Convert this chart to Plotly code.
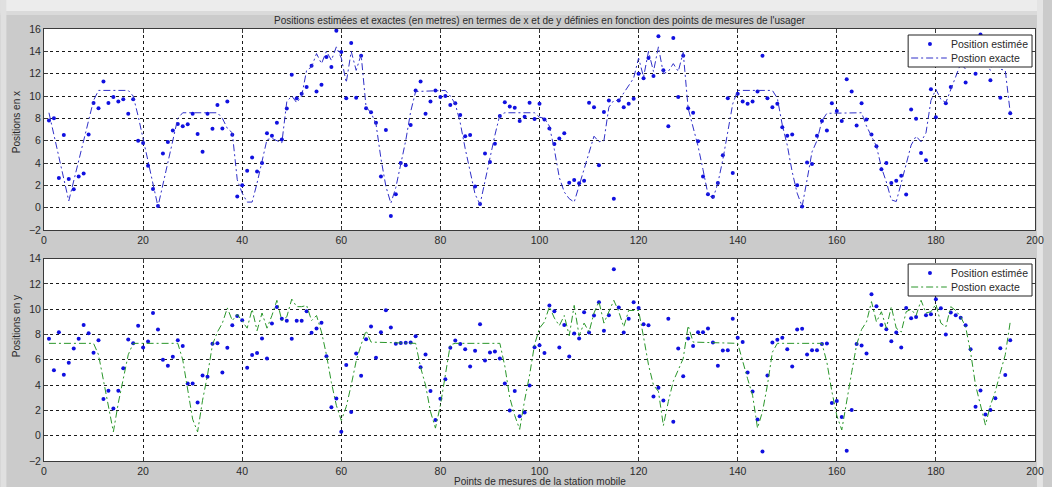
import plotly.graph_objects as go

# Measurement point index (1..195)
points = list(range(1, 196))

# Estimated x positions (m)
est_x = [
    7.8, 8.0, 2.66, 6.5, 2.57, 1.64, 2.8, 3.05, 6.55, 9.37,
    8.9, 11.3, 9.37, 9.9, 9.5, 9.7, 8.4, 9.7, 6.0, 5.8,
    3.76, 1.67, 0.15, 4.84, 5.88, 6.9, 7.5, 7.28, 7.46, 8.42,
    6.6, 5.0, 8.42, 7.07, 9.2, 7.1, 9.5, 6.54, 1.0, 2.0,
    3.3, 4.5, 3.25, 4.0, 6.66, 6.45, 7.6, 6.1, 8.87, 11.9,
    9.8, 10.2, 10.8, 12.7, 10.4, 11.0, 13.5, 12.6, 15.85, 13.95,
    9.8, 14.75, 9.85, 13.6, 8.9, 8.55, 7.6, 2.8, 6.95, -0.75,
    1.2, 4.0, 3.8, 7.4, 10.5, 11.3, 8.4, 9.5, 10.5, 9.9,
    10.0, 9.2, 9.35, 8.3, 6.4, 6.5, 1.9, 0.33, 4.85, 4.1,
    5.73, 8.2, 9.43, 9.05, 8.95, 7.76, 8.15, 9.4, 7.94, 9.3,
    7.9, 7.1, 5.7, 6.2, 6.66, 2.24, 2.48, 2.18, 2.42, 9.4,
    9.0, 3.8, 8.57, 9.6, 0.8, 9.6, 9.0, 9.3, 9.75, 12.0,
    11.6, 13.4, 11.8, 15.35, 12.3, 7.3, 15.2, 9.9, 13.6, 8.9,
    8.5, 5.95, 2.8, 1.2, 0.98, 2.2, 4.7, 9.8, 3.1, 10.2,
    9.5, 9.3, 9.5, 10.4, 13.6, 9.8, 9.0, 9.3, 7.2, 6.45,
    6.55, 2.0, 0.1, 4.05, 3.9, 6.45, 7.76, 6.9, 9.35, 8.66,
    7.76, 11.5, 10.4, 7.35, 9.35, 7.9, 6.55, 5.5, 3.44, 4.0,
    2.2, 2.4, 2.85, 1.17, 8.8, 7.97, 4.9, 4.25, 10.6, 8.1,
    13.2, 9.35, 10.8, 13.0, 14.3, 11.2, 13.8, 12.0, 15.5, 14.2,
    11.4, 13.1, 9.85, 12.9, 8.45,
]

# Estimated y positions (m)
est_y = [
    7.66, 5.18, 8.18, 4.82, 5.76, 6.9, 7.66, 8.76, 8.1, 6.55,
    7.55, 2.9, 3.55, 2.16, 3.55, 5.34, 7.6, 7.3, 8.7, 6.97,
    7.45, 9.7, 8.4, 6.0, 5.53, 6.24, 7.55, 7.1, 4.13, 4.13,
    2.63, 4.76, 4.66, 7.26, 7.3, 5.0, 6.95, 8.74, 9.47, 9.13,
    5.37, 6.37, 6.53, 7.68, 6.1, 8.87, 10.18, 9.24, 9.08, 7.66,
    9.08, 9.08, 9.84, 8.13, 8.47, 8.92, 6.29, 2.24, 2.95, 0.32,
    5.58, 1.87, 6.5, 4.74, 7.63, 8.63, 6.16, 8.18, 9.92, 8.55,
    7.26, 7.32, 7.34, 7.37, 7.87, 5.42, 6.42, 3.53, 1.24, 2.92,
    4.47, 6.95, 7.53, 7.24, 6.84, 5.47, 6.71, 8.82, 5.95, 6.58,
    6.66, 6.1, 4.13, 2.0, 3.53, 1.53, 1.84, 3.97, 7.0, 7.16,
    6.53, 10.3, 9.84, 6.97, 8.76, 6.26, 8.08, 7.68, 9.76, 8.16,
    9.5, 10.55, 8.29, 9.53, 13.16, 10.13, 8.16, 9.24, 10.55, 10.1,
    8.82, 8.74, 3.1, 3.79, 2.79, 9.24, 1.1, 6.89, 4.7, 7.68,
    7.1, 8.18, 8.18, 8.47, 7.37, 5.53, 6.74, 6.76, 9.24, 7.74,
    7.4, 5.0, 3.5, 1.29, -1.24, 4.76, 7.37, 7.58, 7.74, 6.84,
    5.47, 8.4, 8.45, 6.42, 6.76, 6.76, 7.24, 7.29, 2.58, 2.74,
    1.47, -1.18, 2.03, 7.24, 7.13, 6.5, 11.18, 10.24, 8.76, 8.42,
    7.47, 8.16, 6.97, 10.1, 9.29, 9.39, 11.5, 9.53, 9.6, 10.79,
    10.08, 8.0, 9.74, 9.53, 9.32, 8.74, 6.84, 2.29, 3.58, 1.68,
    2.03, 2.97, 6.92, 4.79, 7.55,
]

# Exact trajectory, x coordinate: path vertices (point index, metres)
exact_x_pts = [
    1, 5, 10, 11, 17, 18, 19, 23, 27, 28, 35, 36, 37, 38, 39, 40, 41, 42,
    43, 45, 46, 48, 49, 50, 51, 52, 53, 54, 55, 56, 57, 58, 59, 60, 61, 62,
    63, 64, 65, 66, 67, 68, 69, 70, 71, 72, 73, 74, 75, 81, 82, 83, 84, 85,
    86, 87, 88, 89, 90, 91, 92, 93, 99, 100, 101, 102, 103, 104, 105, 106,
    107, 108, 109, 110, 111, 112, 113, 114, 115, 116, 117, 118, 119, 120,
    121, 122, 123, 124, 125, 126, 127, 128, 129, 130, 131, 132, 133, 134,
    135, 136, 137, 138, 139, 140, 147, 148, 149, 150, 151, 152, 153, 154,
    155, 156, 157, 158, 165, 166, 167, 168, 169, 170, 171, 172, 173, 174,
    175, 176, 177, 178, 179, 180, 181, 182, 183, 184, 185, 186, 187, 188,
    189, 190, 191, 192, 193, 194, 195,
]
exact_x_vals = [
    8.5, 0.6, 9.6, 10.5, 10.5, 10.0, 8.2, 0.1, 8.0, 8.5, 8.5, 8.0, 7.1, 6.7,
    2.5, 1.3, 0.5, 0.5, 2.2, 6.1, 6.2, 5.8, 9.5, 10.0, 9.4, 10.0, 12.3,
    12.6, 13.8, 12.9, 14.0, 13.2, 14.4, 13.4, 11.2, 14.0, 12.3, 13.7, 9.0,
    8.5, 7.5, 4.4, 1.9, 0.4, 1.8, 3.9, 6.0, 8.6, 10.4, 10.5, 10.0, 9.3, 7.6,
    5.3, 3.3, 1.2, 0.3, 2.4, 4.3, 6.5, 8.3, 8.5, 8.5, 8.1, 8.0, 7.3, 5.2,
    2.7, 1.4, 0.8, 0.5, 2.0, 3.3, 5.0, 6.4, 5.9, 6.0, 9.0, 9.6, 9.6, 10.3,
    11.0, 11.6, 13.4, 11.7, 14.0, 12.2, 14.4, 12.0, 12.2, 12.9, 12.2, 13.9,
    8.9, 7.3, 5.5, 3.4, 1.2, 0.8, 2.2, 4.3, 6.7, 9.3, 10.5, 10.5, 9.8, 7.4,
    5.6, 3.2, 1.3, 0.1, 2.5, 5.0, 6.0, 7.8, 8.45, 8.5, 7.3, 6.4, 5.5, 3.6,
    2.3, 0.7, 0.55, 2.2, 4.0, 5.6, 6.4, 5.9, 6.7, 9.6, 10.6, 9.7, 9.4, 10.6,
    11.7, 12.9, 12.4, 13.8, 13.0, 14.2, 13.0, 12.3, 13.5, 12.4, 12.3, 8.5,
]

# Exact trajectory, y coordinate: path vertices (point index, metres)
exact_y_pts = [
    1, 10, 11, 12, 13, 14, 15, 16, 17, 18, 27, 28, 29, 30, 31, 32, 33, 34,
    35, 36, 37, 38, 39, 40, 41, 42, 43, 44, 45, 46, 47, 48, 49, 50, 51, 52,
    53, 54, 55, 56, 57, 58, 59, 60, 61, 62, 63, 64, 65, 66, 75, 76, 77, 78,
    79, 80, 81, 82, 83, 92, 93, 94, 95, 96, 97, 98, 99, 100, 101, 102, 103,
    104, 105, 106, 107, 108, 109, 110, 111, 112, 113, 114, 115, 116, 117,
    118, 119, 120, 121, 122, 123, 124, 125, 126, 127, 128, 129, 130, 131,
    140, 141, 142, 143, 144, 145, 146, 147, 148, 157, 158, 159, 160, 161,
    162, 163, 164, 165, 166, 167, 168, 169, 170, 171, 172, 173, 174, 175,
    176, 177, 178, 179, 180, 181, 182, 183, 184, 185, 186, 187, 188, 189,
    190, 191, 192, 193, 194, 195,
]
exact_y_vals = [
    7.3, 7.3, 6.4, 4.4, 2.4, 0.3, 2.6, 4.4, 6.4, 7.3, 7.3, 6.0, 3.8, 1.3,
    0.3, 2.8, 4.8, 7.2, 8.2, 8.9, 10.1, 9.1, 9.6, 9.0, 8.5, 10.0, 8.3, 9.7,
    8.5, 9.5, 10.7, 9.1, 9.4, 10.8, 10.2, 10.2, 10.3, 9.1, 9.5, 8.2, 6.4,
    4.2, 2.4, 1.2, 2.3, 4.0, 5.9, 7.2, 8.3, 7.4, 7.3, 5.4, 4.0, 1.9, 0.6,
    2.4, 4.8, 7.2, 7.3, 7.3, 5.5, 3.0, 1.6, 0.5, 2.8, 4.8, 7.2, 8.5, 9.0,
    10.2, 9.3, 8.7, 9.5, 7.9, 10.3, 7.9, 8.9, 8.2, 9.7, 10.6, 8.9, 9.8,
    10.7, 9.8, 8.6, 9.9, 9.9, 9.9, 7.8, 5.6, 4.0, 3.5, 0.8, 2.7, 4.3, 5.2,
    6.1, 8.7, 7.4, 7.3, 5.8, 4.5, 3.2, 0.6, 1.9, 4.0, 6.6, 7.3, 7.3, 5.8,
    3.5, 1.6, 0.45, 2.9, 5.0, 7.2, 8.4, 9.0, 10.6, 9.0, 9.8, 8.5, 10.2,
    8.5, 8.2, 9.8, 10.0, 9.5, 10.7, 9.7, 9.8, 10.4, 8.9, 8.6, 10.2, 9.9,
    9.4, 8.6, 6.6, 4.0, 2.4, 0.84, 2.4, 3.5, 5.0, 6.4, 9.0,
]

legend_labels = ["Position estimée", "Postion exacte"]

# Figure geometry (pixels)
W, H = 1052, 487
ML, MR, MT, MB = 44, 8, 29, 26
PW = W - ML - MR
PH = H - MT - MB


def px_x(px):
    return (px - ML) / PW


def px_y(py):
    return (H - MB - py) / PH


FONT = "Arial, Liberation Sans, sans-serif"
TXT = "#2a2a2a"
DOT_BLUE = "#1010e0"
LINE_BLUE = "#3030c8"
LINE_GREEN = "#2a962a"
DASH = "7px,3px,2px,3px"

fig = go.Figure()

fig.add_trace(go.Scatter(
    x=points, y=est_x, mode="markers", name=legend_labels[0],
    marker=dict(size=4, color=DOT_BLUE), xaxis="x", yaxis="y",
))
fig.add_trace(go.Scatter(
    x=exact_x_pts, y=exact_x_vals, mode="lines", name=legend_labels[1],
    line=dict(color=LINE_BLUE, width=1, dash=DASH), xaxis="x", yaxis="y",
))
fig.add_trace(go.Scatter(
    x=points, y=est_y, mode="markers", name=legend_labels[0],
    marker=dict(size=4, color=DOT_BLUE), xaxis="x2", yaxis="y2",
))
fig.add_trace(go.Scatter(
    x=exact_y_pts, y=exact_y_vals, mode="lines", name=legend_labels[1],
    line=dict(color=LINE_GREEN, width=1, dash=DASH), xaxis="x2", yaxis="y2",
))

axis_common = dict(
    showgrid=True, gridcolor="#1a1a1a", gridwidth=1, griddash="dot",
    showline=True, linecolor="#3a3a3a", linewidth=1, mirror="ticks",
    ticks="inside", ticklen=4, tickcolor="#3a3a3a", zeroline=False,
    tickfont=dict(family=FONT, size=10.5, color=TXT),
)

top_domain = [px_y(230), 1.0]
bot_domain = [0.0, px_y(258.6)]

fig.update_layout(
    width=W, height=H,
    margin=dict(l=ML, r=MR, t=MT, b=MB),
    paper_bgcolor="#cbcbcb",
    plot_bgcolor="#ffffff",
    showlegend=False,
    xaxis=dict(axis_common, domain=[0, 1], range=[0, 200],
               tickvals=list(range(0, 201, 20)), anchor="y",
               ticklabeloverflow="allow"),
    yaxis=dict(axis_common, domain=top_domain, range=[-2, 16],
               tickvals=list(range(-2, 17, 2)), anchor="x"),
    xaxis2=dict(axis_common, domain=[0, 1], range=[0, 200],
                tickvals=list(range(0, 201, 20)), anchor="y2",
                ticklabeloverflow="allow"),
    yaxis2=dict(axis_common, domain=bot_domain, range=[-2, 14],
                tickvals=list(range(-2, 15, 2)), anchor="x2"),
)

# Light window edges around the grey figure panel
edge_shapes = [
    (0, 0, W, 13, "#ececec"),
    (0, 11, W, 15, "#dadada"),
    (0, 0, 6, H, "#e0e0e0"),
    (W - 6, 0, W, H, "#e4e4e4"),
]
for x0, y0, x1, y1, col in edge_shapes:
    fig.add_shape(type="rect", xref="paper", yref="paper",
                  x0=px_x(x0), x1=px_x(x1), y0=px_y(y1), y1=px_y(y0),
                  fillcolor=col, line=dict(width=0), layer="below")


def add_legend_box(top, line_color):
    """Boxed legend in the upper right corner of a panel (top = box top, px)."""
    left, right, bottom = 916, 1041, top + 32
    fig.add_shape(type="rect", xref="paper", yref="paper",
                  x0=px_x(left), x1=px_x(right), y0=px_y(bottom), y1=px_y(top),
                  fillcolor="#ffffff", line=dict(color="#222222", width=1),
                  layer="above")
    row1, row2 = top + 9, top + 23
    fig.add_shape(type="circle", xref="paper", yref="paper",
                  x0=px_x(936), x1=px_x(940), y0=px_y(row1 + 2), y1=px_y(row1 - 2),
                  fillcolor=DOT_BLUE, line=dict(width=0), layer="above")
    fig.add_shape(type="line", xref="paper", yref="paper",
                  x0=px_x(919), x1=px_x(955), y0=px_y(row2), y1=px_y(row2),
                  line=dict(color=line_color, width=1, dash=DASH), layer="above")
    for label, row in zip(legend_labels, (row1, row2)):
        fig.add_annotation(text=label, xref="paper", yref="paper",
                           x=px_x(957), y=px_y(row), xanchor="left",
                           yanchor="middle", showarrow=False,
                           font=dict(family=FONT, size=10.5, color=TXT))


add_legend_box(35, LINE_BLUE)
add_legend_box(264, LINE_GREEN)

fig.add_annotation(
    text="Positions estimées et exactes (en metres) en termes de x et de y "
         "définies en fonction des points de mesures de l'usager",
    xref="paper", yref="paper", x=0.5, y=px_y(20), showarrow=False,
    xanchor="center", yanchor="middle", font=dict(family=FONT, size=10, color=TXT),
)
fig.add_annotation(
    text="Points de mesures de la station mobile",
    xref="paper", yref="paper", x=0.5, y=px_y(481.5), showarrow=False,
    xanchor="center", yanchor="middle", font=dict(family=FONT, size=10, color=TXT),
)
fig.add_annotation(
    text="Positions en x", textangle=-90,
    xref="paper", yref="paper", x=px_x(16), y=px_y(122), showarrow=False,
    xanchor="center", yanchor="middle", font=dict(family=FONT, size=10, color=TXT),
)
fig.add_annotation(
    text="Positions en y", textangle=-90,
    xref="paper", yref="paper", x=px_x(16), y=px_y(326), showarrow=False,
    xanchor="center", yanchor="middle", font=dict(family=FONT, size=10, color=TXT),
)

fig.write_html("out.html")
